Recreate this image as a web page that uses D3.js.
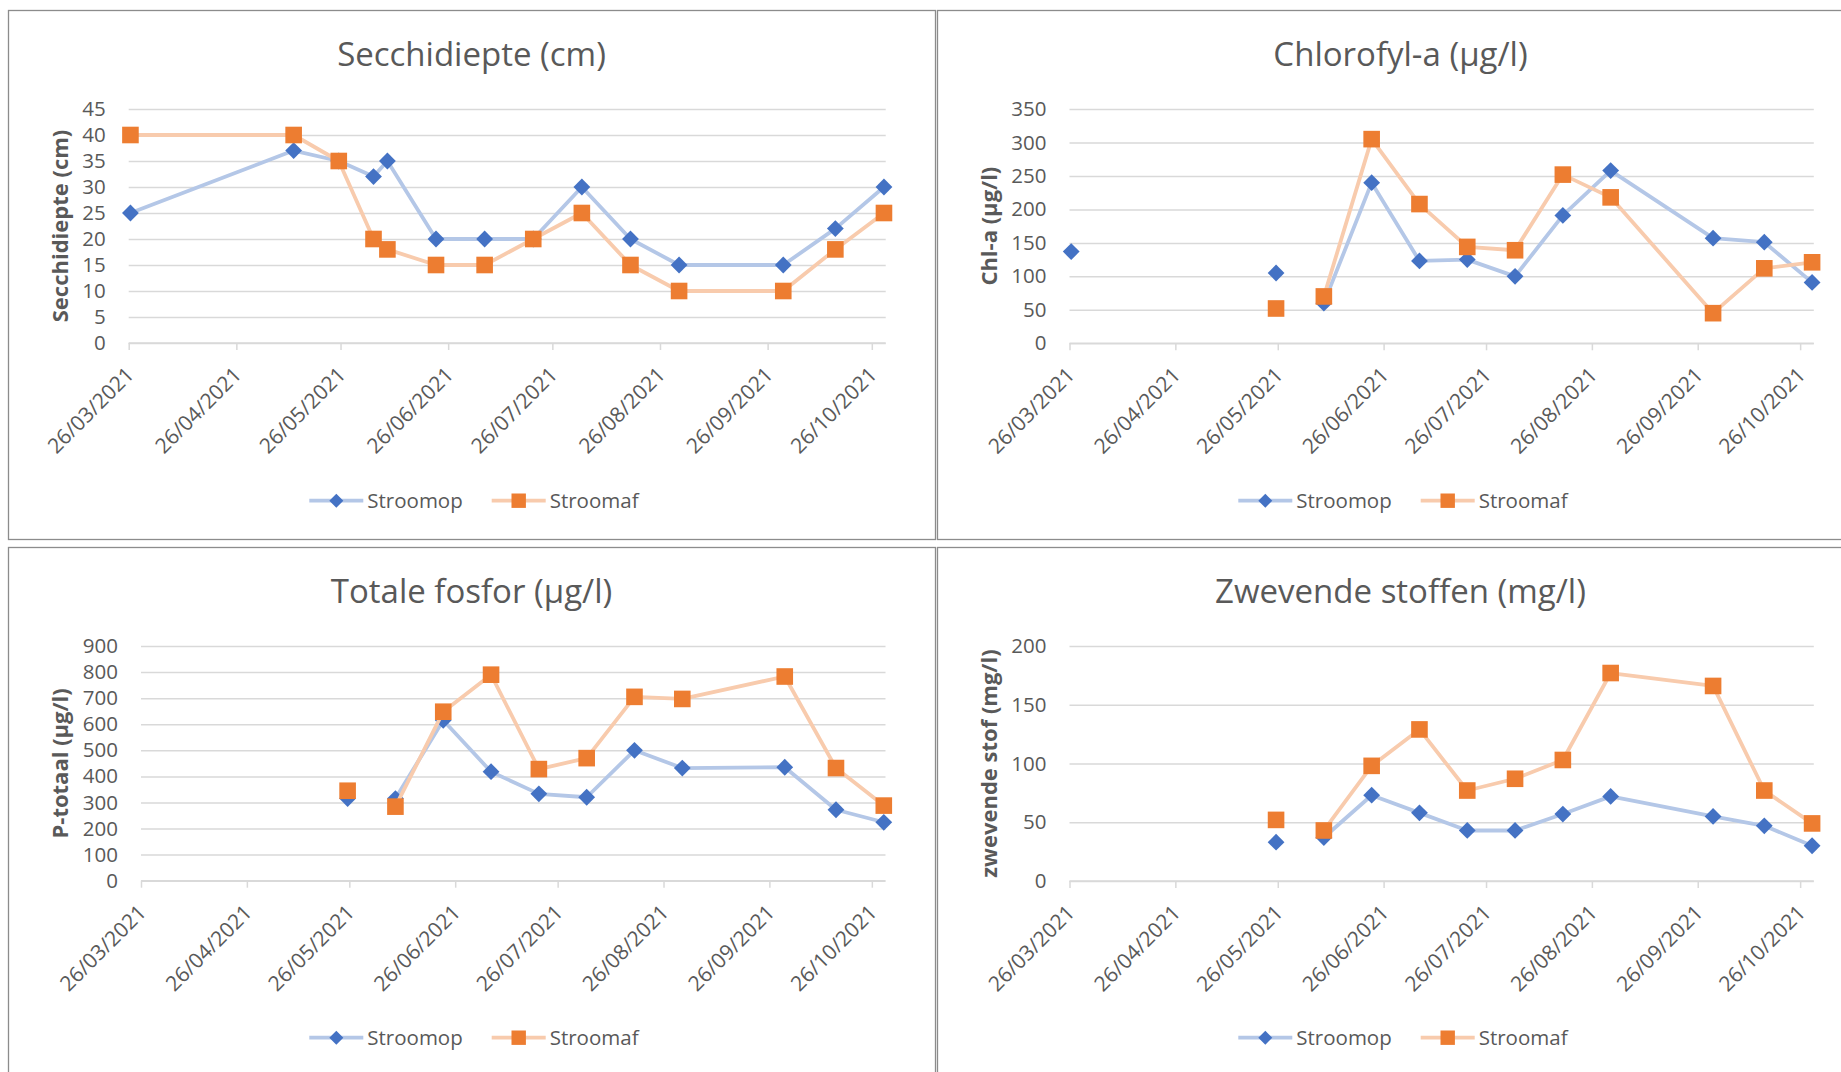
<!DOCTYPE html>
<html>
<head>
<meta charset="utf-8">
<script src="https://cdn.jsdelivr.net/npm/d3@7"></script>
<style>
  html, body { margin: 0; padding: 0; background: #ffffff; }
  svg { display: block; }
  text { font-family: "Open Sans", "Noto Sans", sans-serif; fill: #595959; }
</style>
</head>
<body>
<svg id="chart" width="1841" height="1072"></svg>
<script>
// ---- data ----
const sampleDates = ["2021-03-26","2021-05-12","2021-05-25","2021-06-04","2021-06-08","2021-06-22","2021-07-06","2021-07-20","2021-08-03","2021-08-17","2021-08-31","2021-09-30","2021-10-15","2021-10-29"];
const seriesNames = ["Stroomop", "Stroomaf"];
const xTickLabels = ["26/03/2021","26/04/2021","26/05/2021","26/06/2021","26/07/2021","26/08/2021","26/09/2021","26/10/2021"];
const xAxisEnd = "2021-10-30";

const secchiStroomop = [25, 37, 35, 32, 35, 20, 20, 20, 30, 20, 15, 15, 22, 30];
const secchiStroomaf = [40, 40, 35, 20, 18, 15, 15, 20, 25, 15, 10, 10, 18, 25];
const secchiTicks = [0, 5, 10, 15, 20, 25, 30, 35, 40, 45];

const chlaStroomop = [137, null, 105, null, 60, 240, 123, 125, 100, 191, 258, 157, 151, 91];
const chlaStroomaf = [null, null, 52, null, 70, 305, 208, 144, 139, 252, 218, 45, 112, 121];
const chlaTicks = [0, 50, 100, 150, 200, 250, 300, 350];

const ptotStroomop = [null, null, 315, null, 315, 615, 418, 333, 320, 500, 432, 435, 272, 224];
const ptotStroomaf = [null, null, 345, null, 284, 648, 790, 428, 470, 705, 697, 783, 432, 288];
const ptotTicks = [0, 100, 200, 300, 400, 500, 600, 700, 800, 900];

const zsStroomop = [null, null, 33, null, 37, 73, 58, 43, 43, 57, 72, 55, 47, 30];
const zsStroomaf = [null, null, 52, null, 43, 98, 129, 77, 87, 103, 177, 166, 77, 49];
const zsTicks = [0, 50, 100, 150, 200];

const titles = ["Secchidiepte (cm)", "Chlorofyl-a (µg/l)", "Totale fosfor (µg/l)", "Zwevende stoffen (mg/l)"];
const yTitles = ["Secchidiepte (cm)", "Chl-a (µg/l)", "P-totaal (µg/l)", "zwevende stof (mg/l)"];

// ---- styles ----
const colors = {
  opLine: "#B4C7E7", opMarker: "#4472C4",
  afLine: "#F8CBAD", afMarker: "#ED7D31",
  grid: "#D9D9D9", border: "#8C8C8C"
};

const panels = [
  { title: titles[0], yTitle: yTitles[0], ticks: secchiTicks, op: secchiStroomop, af: secchiStroomaf,
    x: 8, y: 10, w: 927, h: 529, plotL: 128.7, plotR: 885.7, plotT: 109, plotB: 343 },
  { title: titles[1], yTitle: yTitles[1], ticks: chlaTicks, op: chlaStroomop, af: chlaStroomaf,
    x: 937, y: 10, w: 927, h: 529, plotL: 1069.5, plotR: 1813.8, plotT: 109, plotB: 343.3 },
  { title: titles[2], yTitle: yTitles[2], ticks: ptotTicks, op: ptotStroomop, af: ptotStroomaf,
    x: 8, y: 547, w: 927, h: 529, plotL: 141, plotR: 885.5, plotT: 646, plotB: 880.7 },
  { title: titles[3], yTitle: yTitles[3], ticks: zsTicks, op: zsStroomop, af: zsStroomaf,
    x: 937, y: 547, w: 927, h: 529, plotL: 1069.5, plotR: 1813.8, plotT: 646, plotB: 881 }
];

const svg = d3.select("#chart");
svg.append("rect").attr("width", 1841).attr("height", 1072).attr("fill", "#fff");

const parseISO = d3.utcParse("%Y-%m-%d");
const parseTick = d3.utcParse("%d/%m/%Y");
const dates = sampleDates.map(parseISO);
const tickDates = xTickLabels.map(parseTick);
const domainStart = tickDates[0];
const domainEnd = parseISO(xAxisEnd);
const halfDay = 12 * 3600 * 1000;

function diamond(s) { return `M0,${-s} L${s},0 L0,${s} L${-s},0 Z`; }

panels.forEach(p => {
  const g = svg.append("g");
  // panel border
  g.append("rect").attr("x", p.x + 0.5).attr("y", p.y + 0.5).attr("width", p.w).attr("height", p.h)
    .attr("fill", "#fff").attr("stroke", colors.border).attr("stroke-width", 1.3);

  const x = d3.scaleUtc().domain([domainStart, domainEnd]).range([p.plotL, p.plotR]);
  const yMax = d3.max(p.ticks);
  const y = d3.scaleLinear().domain([0, yMax]).range([p.plotB, p.plotT]);

  // title
  g.append("text").attr("x", p.x + p.w / 2).attr("y", p.y + 55.5)
    .attr("text-anchor", "middle").style("font-size", "33px").text(p.title);

  // gridlines (y axis)
  const yAxis = d3.axisLeft(y).tickValues(p.ticks).tickSize(-(p.plotR - p.plotL)).tickPadding(23);
  const ya = g.append("g").attr("transform", `translate(${p.plotL},0)`).call(yAxis);
  ya.select(".domain").remove();
  ya.selectAll(".tick line").attr("stroke", colors.grid).attr("stroke-width", 1.5);
  ya.selectAll(".tick text").style("font-size", "20.5px").attr("fill", "#595959")
    .style("font-family", "'Open Sans', sans-serif");

  // x axis
  const xAxis = d3.axisBottom(x).tickValues(tickDates).tickSize(7).tickFormat(d3.utcFormat("%d/%m/%Y"));
  const xa = g.append("g").attr("transform", `translate(0,${p.plotB})`).call(xAxis);
  xa.select(".domain").attr("stroke", colors.grid).attr("stroke-width", 1.5)
    .attr("d", `M${p.plotL},0 H${p.plotR}`);
  xa.selectAll(".tick line").attr("stroke", colors.grid).attr("stroke-width", 1.5);
  xa.selectAll(".tick text")
    .style("font-size", "21px").style("font-family", "'Open Sans', sans-serif")
    .attr("fill", "#595959")
    .attr("text-anchor", "end")
    .attr("y", null).attr("dy", null)
    .attr("transform", "translate(6,33) rotate(-45)");

  // y title
  const cy = (p.plotT + p.plotB) / 2;
  g.append("text").attr("transform", `translate(${p.x + 52},${cy}) rotate(-90)`)
    .attr("text-anchor", "middle").attr("dy", "0.35em")
    .style("font-size", "22px").style("font-weight", "bold").text(p.yTitle);

  // series
  const series = [
    { vals: p.op, line: colors.opLine, marker: colors.opMarker, shape: "diamond" },
    { vals: p.af, line: colors.afLine, marker: colors.afMarker, shape: "square" }
  ];
  series.forEach(s => {
    const pts = dates.map((d, i) => ({ d: new Date(+d + halfDay), v: s.vals[i] }));
    const line = d3.line().defined(d => d.v != null).x(d => x(d.d)).y(d => y(d.v));
    g.append("path").datum(pts).attr("d", line).attr("fill", "none")
      .attr("stroke", s.line).attr("stroke-width", 3.8)
      .attr("stroke-linejoin", "round").attr("stroke-linecap", "round");
    const valid = pts.filter(d => d.v != null);
    if (s.shape === "diamond") {
      g.selectAll(null).data(valid).enter().append("path")
        .attr("d", diamond(8.4))
        .attr("transform", d => `translate(${x(d.d)},${y(d.v)})`)
        .attr("fill", s.marker);
    } else {
      g.selectAll(null).data(valid).enter().append("rect")
        .attr("x", d => x(d.d) - 8.3).attr("y", d => y(d.v) - 8.3)
        .attr("width", 16.6).attr("height", 16.6)
        .attr("fill", s.marker);
    }
  });

  // legend
  const ly = p.y + 490.7;
  const lg = g.append("g");
  const items = [
    { name: seriesNames[0], lx: p.x + 301.3, line: colors.opLine, marker: colors.opMarker, shape: "diamond" },
    { name: seriesNames[1], lx: p.x + 483.7, line: colors.afLine, marker: colors.afMarker, shape: "square" }
  ];
  items.forEach(it => {
    lg.append("line").attr("x1", it.lx).attr("x2", it.lx + 54).attr("y1", ly).attr("y2", ly)
      .attr("stroke", it.line).attr("stroke-width", 3.8);
    const mx = it.lx + 27;
    if (it.shape === "diamond") {
      lg.append("path").attr("d", diamond(7)).attr("transform", `translate(${mx},${ly})`).attr("fill", it.marker);
    } else {
      lg.append("rect").attr("x", mx - 7.2).attr("y", ly - 7.2).attr("width", 14.4).attr("height", 14.4).attr("fill", it.marker);
    }
    lg.append("text").attr("x", it.lx + 58).attr("y", ly).attr("dy", "0.36em")
      .style("font-size", "20.5px").text(it.name);
  });
});
</script>
</body>
</html>
